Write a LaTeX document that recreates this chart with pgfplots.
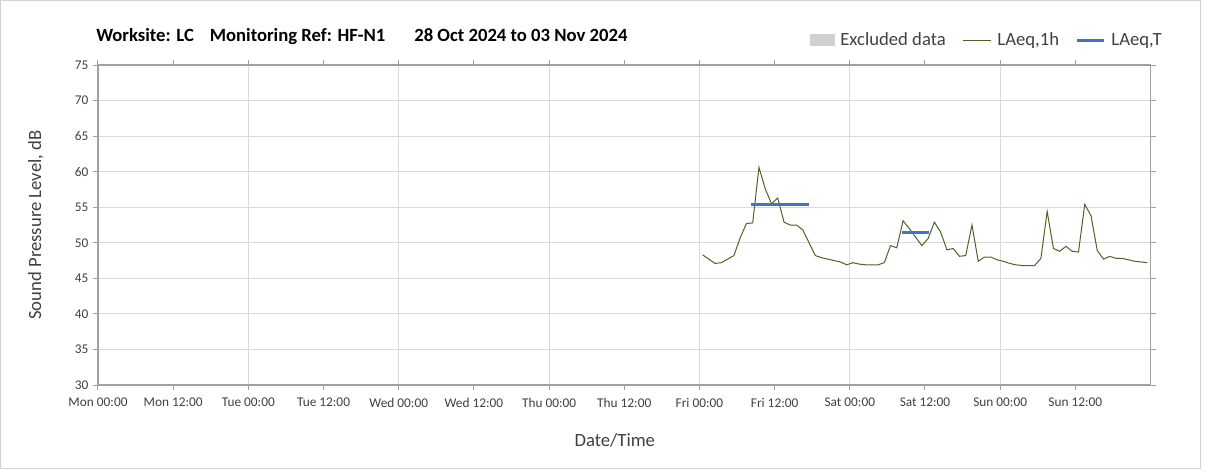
\documentclass[border=0pt]{standalone}
\usepackage{fontspec}
\setmainfont{Carlito}
\usepackage{pgfplots}
\pgfplotsset{compat=1.18}
\usetikzlibrary{calc}
\definecolor{lgreen}{HTML}{4F6228}
\definecolor{lblue}{HTML}{4472C4}
\definecolor{gridc}{HTML}{D9D9D9}
\definecolor{axc}{HTML}{A0A0A0}
\definecolor{excl}{HTML}{D0D0D0}
\definecolor{txt}{HTML}{404040}
\pgfplotstableread{
h v
96.5 48.3
97.5 47.7
98.5 47.1
99.5 47.2
100.5 47.7
101.5 48.2
102.5 50.7
103.5 52.7
104.5 52.8
105.5 60.6
106.5 57.6
107.5 55.5
108.5 56.3
109.5 52.9
110.5 52.5
111.5 52.5
112.5 51.8
113.5 50.0
114.5 48.2
115.5 47.9
116.5 47.7
117.5 47.5
118.5 47.3
119.5 46.9
120.5 47.2
121.5 47.0
122.5 46.9
123.5 46.9
124.5 46.9
125.5 47.2
126.5 49.6
127.5 49.3
128.5 53.1
129.5 52.0
130.5 50.8
131.5 49.6
132.5 50.6
133.5 52.9
134.5 51.5
135.5 49.0
136.5 49.2
137.5 48.1
138.5 48.2
139.5 52.5
140.5 47.4
141.5 48.0
142.5 48.0
143.5 47.6
144.5 47.4
145.5 47.1
146.5 46.9
147.5 46.8
148.5 46.8
149.5 46.8
150.5 47.8
151.5 54.4
152.5 49.2
153.5 48.8
154.5 49.5
155.5 48.8
156.5 48.7
157.5 55.4
158.5 53.8
159.5 48.9
160.5 47.7
161.5 48.1
162.5 47.8
163.5 47.8
164.5 47.6
165.5 47.4
166.5 47.3
167.5 47.2
}\laeqh
\pgfplotstableread{
h v
104.2 55.4
113.5 55.4
}\laeqTa
\pgfplotstableread{
h v
128.3 51.4
132.7 51.4
}\laeqTb
\begin{document}
\begin{tikzpicture}
\path[use as bounding box] (-73.5pt,-65.25pt) rectangle (832.5pt,288.75pt);
\draw[gray!35, line width=0.75pt] (-73.1pt,-62.25pt) rectangle (826.5pt,288.4pt);
\begin{axis}[
  name=ax, at={(0,0)}, anchor=south west,
  scale only axis, width=789.4pt, height=240pt,
  xmin=0, xmax=168, ymin=30, ymax=75,
  xtick={0,12,...,156},
  xticklabels={Mon 00:00,Mon 12:00,Tue 00:00,Tue 12:00,Wed 00:00,Wed 12:00,Thu 00:00,Thu 12:00,Fri 00:00,Fri 12:00,Sat 00:00,Sat 12:00,Sun 00:00,Sun 12:00},
  minor xtick={24,48,...,144},
  xminorgrids=true, minor tick length=0pt,
  ytick={30,35,...,75},
  ymajorgrids=true,
  grid style={gridc, line width=0.75pt},
  minor grid style={gridc, line width=0.75pt},
  tick align=outside, major tick length=3.75pt,
  axis line style={axc, line width=0.9pt},
  tick style={axc, line width=0.75pt},
  ticklabel style={font=\fontsize{10}{12}\selectfont, text=txt},
  xticklabel style={yshift=-2.5pt},
  /pgf/number format/assume math mode=true,
  xlabel={Date/Time},
  ylabel={Sound Pressure Level, dB},
  label style={font=\fontsize{14}{16}\selectfont, text=txt},
  xlabel style={at={(axis description cs:0.491,-0.172)}, anchor=center},
  ylabel style={at={(axis description cs:-0.059,0.5)}, anchor=center},
  legend columns=3,
  legend style={at={(axis description cs:1.0166,1.078)}, anchor=east,
    draw=none, fill=none, font=\fontsize{14}{16}\selectfont, text=txt,
    nodes={inner xsep=1.5pt},
    /tikz/every odd column/.append style={column sep=3pt},
    /tikz/every even column/.append style={column sep=11pt}},
]
\addlegendimage{legend image code/.code={\fill[excl] (0pt,-4pt) rectangle (18pt,4pt);}}
\addlegendentry{Excluded data\hspace{14pt}}
\addlegendimage{legend image code/.code={\draw[lgreen, line width=0.75pt] (0pt,0pt) -- (21pt,0pt);}}
\addlegendentry{LAeq,1h\hspace{6pt}}
\addlegendimage{legend image code/.code={\draw[lblue, line width=2.25pt] (0pt,0pt) -- (20pt,0pt);}}
\addlegendentry{LAeq,T}
\addplot[lgreen, line width=0.75pt, forget plot] table[x=h, y=v] {\laeqh};
\addplot[lblue, line width=2.25pt, forget plot] table[x=h, y=v] {\laeqTa};
\addplot[lblue, line width=2.25pt, forget plot] table[x=h, y=v] {\laeqTb};
\end{axis}
\node[anchor=west, font=\fontsize{14}{16}\selectfont\bfseries, inner sep=0pt] at (-1.5pt,261pt)
  {Worksite: LC\hspace{0.85em}Monitoring Ref: HF-N1\hspace{1.55em}28 Oct 2024 to 03 Nov 2024};
\end{tikzpicture}
\end{document}
